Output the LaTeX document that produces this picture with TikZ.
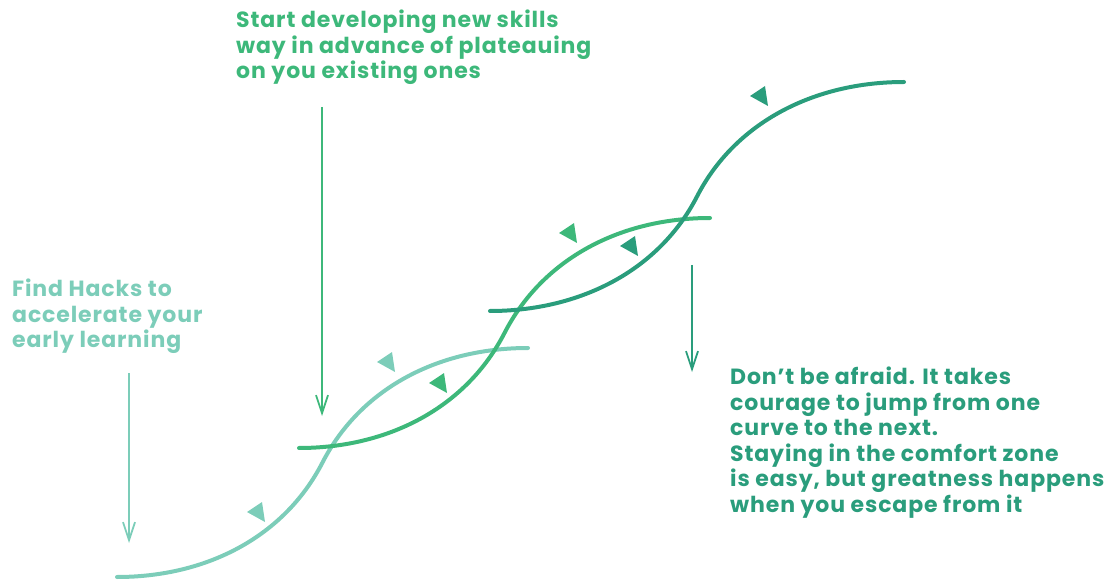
\documentclass[tikz,border=0pt]{standalone}
\usepackage{fontspec}
\setmainfont{Poppins}[LetterSpace=4]
\usetikzlibrary{arrows.meta}

\definecolor{mint}{HTML}{7CCDB9}
\definecolor{leaf}{HTML}{3DB87A}
\definecolor{pine}{HTML}{2A9D7C}

\tikzstyle{curve} = [line width=4pt, line cap=round]
\tikzstyle{pointer} = [line width=1.8pt, -{Straight Barb[length=18pt,width=12pt]}]
\tikzstyle{note} = [anchor=north west, align=left, inner sep=0pt, font=\fontsize{22}{25.5}\selectfont\bfseries]

\begin{document}
\begin{tikzpicture}[x=1pt, y=-1pt]

\useasboundingbox (0,0) rectangle (1117,580);

% the three learning curves
\draw [curve, mint] (117,577) .. controls +(90,0) and +(-38,74) .. (322.5,462.5) .. controls +(38,-74) and +(-90,0) .. (528,348);
\draw [curve, leaf] (299,448) .. controls +(90,0) and +(-38,74) .. (504.5,333) .. controls +(38,-74) and +(-90,0) .. (710,218);
\draw [curve, pine] (490,311) .. controls +(90,0) and +(-38,74) .. (697,196.5) .. controls +(38,-74) and +(-90,0) .. (904,82);

% direction marks
\fill [mint] (258,512) +(-11,0) -- +(4,-10) -- +(7,10) -- cycle;
\fill [mint] (388,362) +(-11,0) -- +(4,-10) -- +(7,10) -- cycle;
\fill [leaf] (440,383) +(-11,0) -- +(4,-10) -- +(7,10) -- cycle;
\fill [leaf] (570,233) +(-11,0) -- +(4,-10) -- +(7,10) -- cycle;
\fill [pine] (631,246) +(-11,0) -- +(4,-10) -- +(7,10) -- cycle;
\fill [pine] (761,96) +(-11,0) -- +(4,-10) -- +(7,10) -- cycle;

% notes
\node (hacks) [note, text=mint] at (12,279) {Find Hacks to\\accelerate your\\early learning};
\node (skills) [note, text=leaf] at (236,10) {Start developing new skills\\way in advance of plateauing\\on you existing ones};
\node (courage) [note, text=pine] at (730,367) {Don’t be afraid. It takes\\courage to jump from one\\curve to the next.\\Staying in the comfort zone\\is easy, but greatness happens\\when you escape from it};

\coordinate (hacksTop) at (129,373);
\coordinate (hacksEnd) at (129,543);
\coordinate (skillsTop) at (322,107);
\coordinate (skillsEnd) at (322,416);
\coordinate (courageTop) at (692,265);
\coordinate (courageEnd) at (692,372);

\draw [pointer, mint] (hacksTop) -- (hacksEnd);
\draw [pointer, leaf] (skillsTop) -- (skillsEnd);
\draw [pointer, pine] (courageTop) -- (courageEnd);

\end{tikzpicture}
\end{document}
